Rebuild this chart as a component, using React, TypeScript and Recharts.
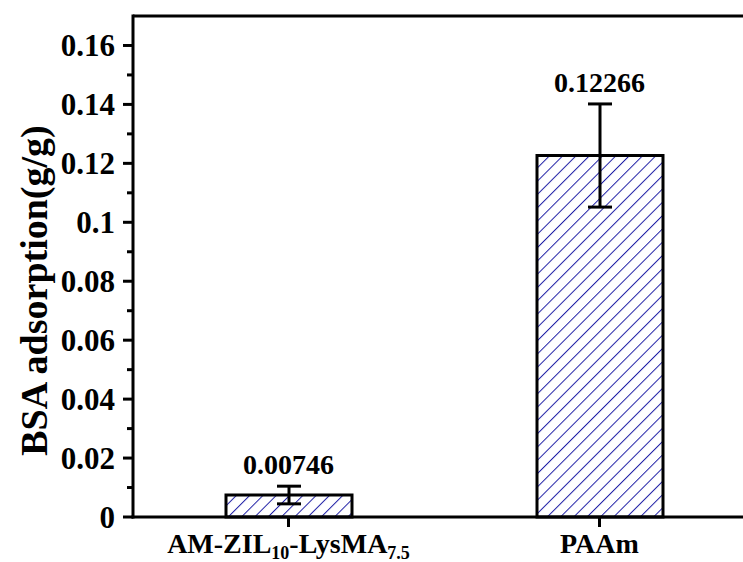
import React from "react";
import {
  ComposedChart,
  Bar,
  Line,
  XAxis,
  YAxis,
  ErrorBar,
  LabelList,
  ReferenceLine,
} from "recharts";

const categories = ["AM-ZIL10-LysMA7.5", "PAAm"];
// label pieces: [text, isSubscript]
const categoryParts: [string, boolean][][] = [
  [
    ["AM-ZIL", false],
    ["10", true],
    ["-LysMA", false],
    ["7.5", true],
  ],
  [["PAAm", false]],
];
const adsorption = [0.00746, 0.12266];
const errors = [0.003, 0.0175];
const valueLabels = ["0.00746", "0.12266"];
const yTicks = [
  0, 0.01, 0.02, 0.03, 0.04, 0.05, 0.06, 0.07, 0.08, 0.09, 0.1, 0.11, 0.12,
  0.13, 0.14, 0.15, 0.16,
];

const data = categories.map((name, i) => ({
  name,
  value: adsorption[i],
  err: errors[i],
  top: adsorption[i] + errors[i],
  label: valueLabels[i],
}));

const FONT = "'Liberation Serif', 'Times New Roman', serif";

function YTick({ x, y, payload }: any) {
  const v = payload.value as number;
  const major = Math.round(v * 100) % 2 === 0;
  return (
    <g>
      <line
        x1={x - (major ? 10 : 6)}
        x2={x}
        y1={y}
        y2={y}
        stroke="#000"
        strokeWidth={3}
      />
      {major && (
        <text
          x={x - 18}
          y={y}
          textAnchor="end"
          dominantBaseline="central"
          fontFamily={FONT}
          fontWeight="bold"
          fontSize={31}
          fill="#000"
        >
          {String(Number(v.toFixed(2)))}
        </text>
      )}
    </g>
  );
}

function XTick({ x, y, index }: any) {
  const parts = categoryParts[index] || [];
  return (
    <g>
      <line x1={x} x2={x} y1={y} y2={y + 10} stroke="#000" strokeWidth={3} />
      <text
        x={x}
        y={y + 36}
        textAnchor="middle"
        fontFamily={FONT}
        fontWeight="bold"
        fontSize={28}
        fill="#000"
      >
        {parts.map(([t, sub], k) => (
          <tspan
            key={k}
            fontSize={sub ? 18 : 28}
            dy={sub ? 6 : k > 0 ? -6 : 0}
          >
            {t}
          </tspan>
        ))}
      </text>
    </g>
  );
}

function YLabel({ viewBox }: any) {
  const cy = viewBox.y + viewBox.height / 2 + 24;
  return (
    <text
      x={34}
      y={cy}
      transform={`rotate(-90, 34, ${cy})`}
      textAnchor="middle"
      dominantBaseline="central"
      fontFamily={FONT}
      fontWeight="bold"
      fontSize={38}
      fill="#000"
    >
      BSA adsorption(g/g)
    </text>
  );
}

export default function App() {
  return (
    <div
      style={{
        position: "fixed",
        left: 0,
        top: 0,
        width: 743,
        height: 562,
        overflow: "hidden",
        background: "#fff",
      }}
    >
      <ComposedChart
        width={780}
        height={562}
        data={data}
        margin={{ top: 16, right: 25, bottom: 0, left: 0 }}
      >
        <defs>
          <pattern
            id="hatch"
            patternUnits="userSpaceOnUse"
            width={9.4}
            height={9.4}
            patternTransform="rotate(45)"
          >
            <rect width={9.4} height={9.4} fill="#fff" />
            <line x1={0} y1={0} x2={0} y2={9.4} stroke="#1f1fa6" strokeWidth={2} />
          </pattern>
        </defs>
        <XAxis
          dataKey="name"
          height={45}
          tickSize={0}
          tickMargin={0}
          tick={<XTick />}
          interval={0}
          axisLine={{ stroke: "#000", strokeWidth: 3, strokeLinecap: "square" }}
        />
        <YAxis
          width={133}
          domain={[0, 0.17]}
          ticks={yTicks}
          interval={0}
          tickSize={0}
          tickMargin={0}
          tick={<YTick />}
          axisLine={{ stroke: "#000", strokeWidth: 3, strokeLinecap: "square" }}
          label={<YLabel />}
        />
        <ReferenceLine y={0.17} stroke="#000" strokeWidth={3} />
        <Bar
          dataKey="value"
          barSize={126}
          fill="url(#hatch)"
          stroke="#000"
          strokeWidth={3}
          isAnimationActive={false}
        >
          <ErrorBar dataKey="err" width={12} stroke="#000" strokeWidth={3} />
        </Bar>
        <Line
          dataKey="top"
          stroke="none"
          dot={false}
          activeDot={false}
          legendType="none"
          isAnimationActive={false}
        >
          <LabelList
            dataKey="label"
            position="top"
            offset={12}
            fontFamily={FONT}
            fontWeight="bold"
            fontSize={28}
            fill="#000"
          />
        </Line>
      </ComposedChart>
    </div>
  );
}
